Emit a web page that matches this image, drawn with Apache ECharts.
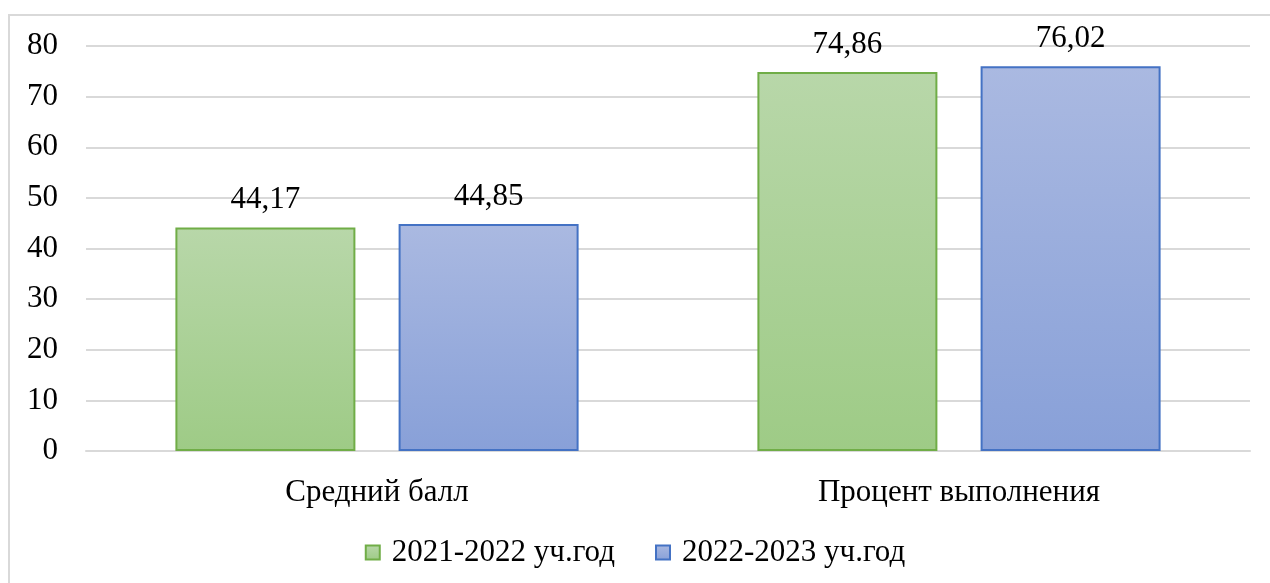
<!DOCTYPE html>
<html>
<head>
<meta charset="utf-8">
<script src="https://cdn.jsdelivr.net/npm/echarts@6/dist/echarts.min.js"></script>
<style>
html,body{margin:0;padding:0;background:#fff;overflow:hidden;}
#frame{position:absolute;left:8px;top:14px;width:1300px;height:620px;border:2px solid #d9d9d9;box-sizing:border-box;}
#main{position:absolute;left:0;top:0;width:1270px;height:583px;}
</style>
</head>
<body>
<div id="frame"></div>
<div id="main"></div>
<script>
//категории и значения
var categories = ['Средний балл', 'Процент выполнения'];
var seriesNames = ['2021-2022 уч.год', '2022-2023 уч.год'];
var values2122 = [44.17, 74.86];
var values2223 = [44.85, 76.02];
var yTicks = [0, 80, 10];

var font = '"Liberation Serif", "Times New Roman", serif';
var grad = function(top, bottom){
	return new echarts.graphic.LinearGradient(0, 0, 0, 1, [
		{offset: 0, color: top},
		{offset: 1, color: bottom}
	]);
};
var fmt = function(p){ return p.value.toFixed(2).replace('.', ','); };

var myChart = echarts.init(document.getElementById('main'));
var option = {
	animation: false,
	backgroundColor: 'transparent',
	grid: {left: 86, right: 20, top: 46, bottom: 132, containLabel: false},
	legend: {
		bottom: 10,
		left: 'center',
		itemWidth: 14,
		itemHeight: 14,
		itemGap: 40,
		icon: 'rect',
		textStyle: {fontFamily: font, fontSize: 31, color: '#000', padding: [0, 0, 0, 7]},
		data: seriesNames
	},
	xAxis: {
		type: 'category',
		data: categories,
		axisLine: {lineStyle: {color: '#d9d9d9', width: 2}},
		axisTick: {show: false},
		axisLabel: {fontFamily: font, fontSize: 31, color: '#000', margin: 26}
	},
	yAxis: {
		type: 'value',
		min: yTicks[0],
		max: yTicks[1],
		interval: yTicks[2],
		axisLine: {show: false},
		axisTick: {show: false},
		splitLine: {lineStyle: {color: '#d9d9d9', width: 2}},
		axisLabel: {fontFamily: font, fontSize: 31, color: '#000', margin: 28}
	},
	series: [
		{
			name: seriesNames[0],
			type: 'bar',
			barWidth: 180,
			barGap: '24%',
			data: values2122,
			itemStyle: {color: grad('#b8d7a9', '#9ecb86'), borderColor: '#70ad47', borderWidth: 2},
			label: {show: true, position: 'top', distance: 12, formatter: fmt, fontFamily: font, fontSize: 31, color: '#000'}
		},
		{
			name: seriesNames[1],
			type: 'bar',
			barWidth: 180,
			barGap: '24%',
			data: values2223,
			itemStyle: {color: grad('#aab9e1', '#88a0d8'), borderColor: '#4472c4', borderWidth: 2},
			label: {show: true, position: 'top', distance: 12, formatter: fmt, fontFamily: font, fontSize: 31, color: '#000'}
		}
	]
};
myChart.setOption(option);
</script>
</body>
</html>
